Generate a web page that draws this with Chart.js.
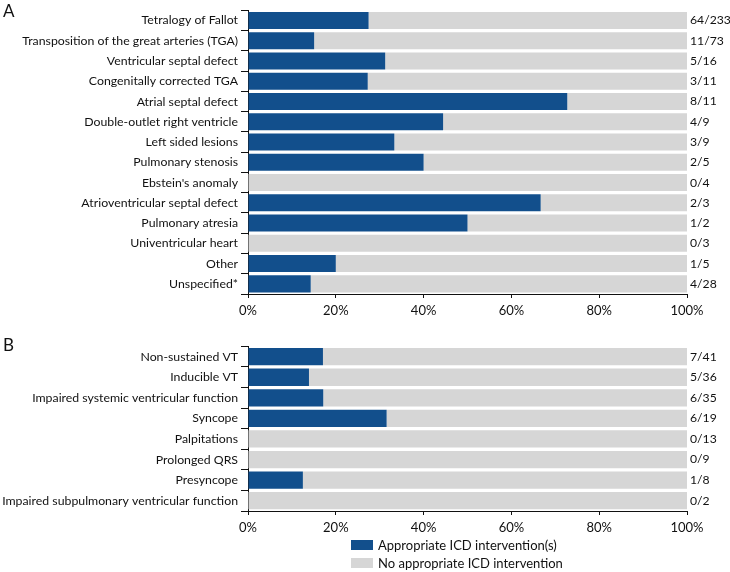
<!DOCTYPE html>
<html>
<head>
<meta charset="utf-8">
<script src="https://cdn.jsdelivr.net/npm/chart.js@4"></script>
<style>
  html, body { margin: 0; padding: 0; background: #fff; }
  #wrap { position: relative; width: 730px; height: 572px; overflow: hidden; font-family: Lato, sans-serif; color: #111; }
  canvas { position: absolute; left: 0; }
  .panel { position: absolute; left: 3px; font-size: 17px; line-height: 17px; }
  .legend { position: absolute; left: 351px; font-size: 13px; line-height: 14px; }
  .legend .row { display: flex; align-items: center; height: 18px; }
  .legend .box { width: 22px; height: 10px; margin-right: 5px; }
</style>
</head>
<body>
<div id="wrap">
  <canvas id="chart-a" width="730" height="322" style="top:0"></canvas>
  <canvas id="chart-b" width="730" height="203" style="top:336px"></canvas>
  <div class="panel" style="top:2px">A</div>
  <div class="panel" style="top:336px">B</div>
  <div class="legend" style="top:536px">
    <div class="row"><span class="box" style="background:#124f8c"></span>Appropriate ICD intervention(s)</div>
    <div class="row"><span class="box" style="background:#d6d6d6"></span>No appropriate ICD intervention</div>
  </div>
</div>
<script>
  // ── 資料 ────────────────────────────────────────────────
  const congenitalLabels = [
    'Tetralogy of Fallot',
    'Transposition of the great arteries (TGA)',
    'Ventricular septal defect',
    'Congenitally corrected TGA',
    'Atrial septal defect',
    'Double-outlet right ventricle',
    'Left sided lesions',
    'Pulmonary stenosis',
    "Ebstein's anomaly",
    'Atrioventricular septal defect',
    'Pulmonary atresia',
    'Univentricular heart',
    'Other',
    'Unspecified*',
  ];
  const congenitalEvents = [64, 11, 5, 3, 8, 4, 3, 2, 0, 2, 1, 0, 1, 4];
  const congenitalTotals = [233, 73, 16, 11, 11, 9, 9, 5, 4, 3, 2, 3, 5, 28];

  const indicationLabels = [
    'Non-sustained VT',
    'Inducible VT',
    'Impaired systemic ventricular function',
    'Syncope',
    'Palpitations',
    'Prolonged QRS',
    'Presyncope',
    'Impaired subpulmonary ventricular function',
  ];
  const indicationEvents = [7, 5, 6, 6, 0, 0, 1, 0];
  const indicationTotals = [41, 36, 35, 19, 13, 9, 8, 2];

  const BLUE = '#124f8c';
  const GREY = '#d6d6d6';

  Chart.defaults.font.family = 'Lato, sans-serif';
  Chart.defaults.font.size = 13;
  Chart.defaults.color = '#111';

  // 右側 n/N 標籤
  const fractionPlugin = {
    id: 'fractions',
    afterDatasetsDraw(chart, args, opts) {
      const { ctx, chartArea, scales } = chart;
      ctx.save();
      ctx.font = '12.2px Lato, sans-serif';
      ctx.fillStyle = '#111';
      ctx.textAlign = 'left';
      ctx.textBaseline = 'middle';
      opts.events.forEach((n, i) => {
        ctx.fillText(n + '/' + opts.totals[i], chartArea.right + 3, scales.y.getPixelForValue(i));
      });
      ctx.restore();
    },
  };

  function makeChart(canvasId, labels, events, totals) {
    const pct = events.map((n, i) => n / totals[i] * 100);
    const rest = pct.map(p => 100 - p);
    return new Chart(document.getElementById(canvasId), {
      type: 'bar',
      data: {
        labels,
        datasets: [
          { label: 'Appropriate ICD intervention(s)', data: pct, backgroundColor: BLUE, borderWidth: 0,
            categoryPercentage: 1, barPercentage: 0.84 },
          { label: 'No appropriate ICD intervention', data: rest, backgroundColor: GREY, borderWidth: 0,
            categoryPercentage: 1, barPercentage: 0.84 },
        ],
      },
      options: {
        responsive: false,
        animation: false,
        indexAxis: 'y',
        layout: { padding: { top: 2, right: 43, left: 0, bottom: 0 } },
        plugins: {
          legend: { display: false },
          tooltip: { enabled: false },
          fractions: { events, totals },
        },
        scales: {
          x: {
            stacked: true,
            min: 0,
            max: 100,
            ticks: { stepSize: 20, padding: 5, color: '#111', callback: v => v + '%' },
            grid: { drawOnChartArea: false, drawTicks: true, tickLength: 4, color: '#111' },
            border: { color: '#111', width: 1 },
            afterFit(scale) { scale.height = 28; },
          },
          y: {
            stacked: true,
            ticks: { padding: 3, color: '#111', autoSkip: false, font: { size: 12.3 } },
            grid: { drawOnChartArea: false, drawTicks: true, tickLength: 7, color: '#111' },
            border: { color: '#111', width: 1 },
            afterFit(scale) { scale.width = 248; },
          },
        },
      },
      plugins: [fractionPlugin],
    });
  }

  makeChart('chart-a', congenitalLabels, congenitalEvents, congenitalTotals);
  makeChart('chart-b', indicationLabels, indicationEvents, indicationTotals);
</script>
</body>
</html>
